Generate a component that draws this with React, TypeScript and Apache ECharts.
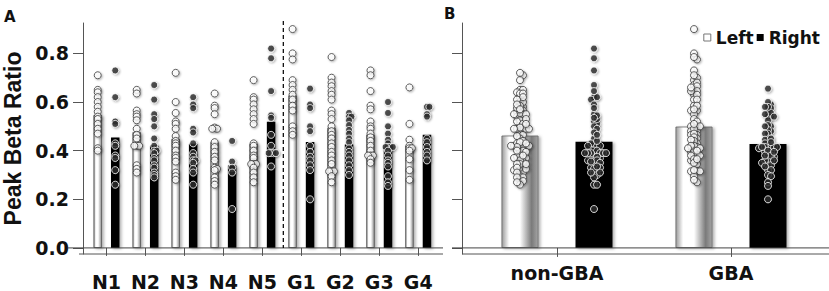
import React, { useEffect, useRef } from 'react';
import * as echarts from 'echarts';

// ---------- data ----------
const categoriesA = ['N1', 'N2', 'N3', 'N4', 'N5', 'G1', 'G2', 'G3', 'G4'];
const categoriesB = ['non-GBA', 'GBA'];
const yTickValues = [0, 0.2, 0.4, 0.6, 0.8];

const leftMeansA = [0.547, 0.476, 0.449, 0.435, 0.428, 0.627, 0.494, 0.466, 0.421];
const rightMeansA = [0.454, 0.421, 0.428, 0.339, 0.519, 0.436, 0.425, 0.417, 0.465];
const leftMeansB = [0.462, 0.499];
const rightMeansB = [0.437, 0.427];

const n1Left = [0.71, 0.65, 0.64, 0.62, 0.6, 0.58, 0.56, 0.54, 0.53, 0.51, 0.49, 0.47, 0.41, 0.4];
const n1Right = [0.73, 0.62, 0.52, 0.51, 0.43, 0.42, 0.38, 0.37, 0.32, 0.26];
const n2Left = [0.65, 0.635, 0.565, 0.55, 0.54, 0.525, 0.49, 0.465, 0.45, 0.42, 0.42, 0.42, 0.34, 0.325, 0.31];
const n2Right = [0.67, 0.61, 0.55, 0.53, 0.5, 0.45, 0.42, 0.4, 0.4, 0.39, 0.37, 0.36, 0.34, 0.33, 0.31, 0.3, 0.29];
const n3Left = [0.72, 0.6, 0.555, 0.52, 0.51, 0.49, 0.46, 0.44, 0.43, 0.42, 0.4, 0.38, 0.37, 0.355, 0.31, 0.295, 0.28];
const n3Right = [0.62, 0.59, 0.575, 0.49, 0.475, 0.43, 0.39, 0.375, 0.36, 0.36, 0.35, 0.325, 0.31, 0.26];
const n4Left = [0.635, 0.585, 0.575, 0.55, 0.495, 0.49, 0.49, 0.435, 0.415, 0.395, 0.375, 0.36, 0.33, 0.325, 0.32, 0.29, 0.275, 0.26];
const n4Right = [0.44, 0.355, 0.33, 0.31, 0.16];
const n5Left = [0.69, 0.62, 0.61, 0.59, 0.57, 0.55, 0.53, 0.51, 0.43, 0.42, 0.4, 0.38, 0.37, 0.345, 0.345, 0.345, 0.33, 0.31, 0.29, 0.27];
const n5Right = [0.82, 0.78, 0.645, 0.545, 0.535, 0.465, 0.42, 0.39, 0.39, 0.39, 0.39, 0.335];
const g1Left = [0.9, 0.8, 0.775, 0.69, 0.67, 0.65, 0.63, 0.61, 0.585, 0.565, 0.5, 0.48, 0.465];
const g1Right = [0.655, 0.59, 0.575, 0.5, 0.48, 0.42, 0.395, 0.375, 0.36, 0.34, 0.32, 0.2];
const g2Left = [0.785, 0.7, 0.68, 0.665, 0.645, 0.63, 0.61, 0.565, 0.55, 0.53, 0.5, 0.48, 0.465, 0.45, 0.43, 0.415, 0.395, 0.38, 0.36, 0.345, 0.315, 0.315, 0.315, 0.295, 0.27];
const g2Right = [0.555, 0.54, 0.54, 0.525, 0.505, 0.485, 0.47, 0.45, 0.435, 0.41, 0.395, 0.38, 0.36, 0.34, 0.32, 0.3];
const g3Left = [0.73, 0.71, 0.645, 0.585, 0.57, 0.52, 0.5, 0.49, 0.47, 0.455, 0.44, 0.42, 0.4, 0.38, 0.38, 0.38, 0.365, 0.35];
const g3Right = [0.6, 0.555, 0.5, 0.47, 0.445, 0.43, 0.415, 0.415, 0.415, 0.415, 0.4, 0.38, 0.36, 0.35, 0.335, 0.295, 0.27, 0.255];
const g4Left = [0.66, 0.51, 0.445, 0.42, 0.41, 0.41, 0.4, 0.365, 0.32, 0.28];
const g4Right = [0.58, 0.58, 0.55, 0.54, 0.45, 0.435, 0.415, 0.395, 0.38, 0.36];

const leftPointsA = [n1Left, n2Left, n3Left, n4Left, n5Left, g1Left, g2Left, g3Left, g4Left];
const rightPointsA = [n1Right, n2Right, n3Right, n4Right, n5Right, g1Right, g2Right, g3Right, g4Right];
const leftPointsB = [
  [...n1Left, ...n2Left, ...n3Left, ...n4Left, ...n5Left],
  [...g1Left, ...g2Left, ...g3Left, ...g4Left],
];
const rightPointsB = [
  [...n1Right, ...n2Right, ...n3Right, ...n4Right, ...n5Right],
  [...g1Right, ...g2Right, ...g3Right, ...g4Right],
];

// ---------- layout ----------
const Y_MIN = -0.025;
const Y_MAX = 0.925;
const GRID_TOP = 23;
const GRID_H = 231;
const PX_PER_UNIT = GRID_H / (Y_MAX - Y_MIN);
const FONT = "'DejaVu Sans', Verdana, sans-serif";
const TITLE_FONT = "'Liberation Sans', Arial, sans-serif";

// simple beeswarm: horizontal pixel offsets for each value
function swarm(values: number[], d: number, step: number): number[] {
  const placed: { x: number; y: number }[] = [];
  const out: number[] = new Array(values.length).fill(0);
  const order = values.map((v, i) => ({ v, i })).sort((a, b) => b.v - a.v);
  for (const { v, i } of order) {
    const y = v * PX_PER_UNIT;
    let chosen = 0;
    for (let k = 0; k < 60; k++) {
      const cands = k === 0 ? [0] : [k * step, -k * step];
      let ok: number | null = null;
      for (const x of cands) {
        if (placed.every((p) => (p.x - x) ** 2 + (p.y - y) ** 2 >= d * d)) {
          ok = x;
          break;
        }
      }
      if (ok !== null) {
        chosen = ok;
        break;
      }
    }
    placed.push({ x: chosen, y });
    out[i] = chosen;
  }
  return out;
}

function pointData(groups: number[][], side: number, d: number, step: number) {
  const data: any[] = [];
  groups.forEach((vals, ci) => {
    const offs = swarm(vals, d, step);
    vals.forEach((v, k) => {
      data.push({ value: [ci, v], symbolOffset: [side + offs[k], 0] });
    });
  });
  return data;
}

const leftPointStyle = {
  color: '#ffffff',
  borderColor: '#3a3a3a',
  borderWidth: 1,
  shadowColor: 'rgba(0,0,0,0.35)',
  shadowBlur: 2,
  shadowOffsetX: 1,
  shadowOffsetY: 1,
};
const rightPointStyle = {
  color: '#2a2a2a',
  borderColor: '#ffffff',
  borderWidth: 1,
  shadowColor: 'rgba(0,0,0,0.35)',
  shadowBlur: 2,
  shadowOffsetX: 1,
  shadowOffsetY: 1,
};
const barShadow = {
  shadowColor: 'rgba(0,0,0,0.3)',
  shadowBlur: 3,
  shadowOffsetX: 2,
  shadowOffsetY: 1,
};

export default function App() {
  const ref = useRef<HTMLDivElement>(null);
  useEffect(() => {
    const el = ref.current!;
    const chart = echarts.init(el, null, { renderer: 'svg' });

    const leftGradA = new echarts.graphic.LinearGradient(0, 0, 1, 0, [
      { offset: 0, color: '#8a8a8a' },
      { offset: 0.25, color: '#ffffff' },
      { offset: 0.55, color: '#ffffff' },
      { offset: 1, color: '#8a8a8a' },
    ]);
    const leftGradB = new echarts.graphic.LinearGradient(0, 0, 1, 0, [
      { offset: 0, color: '#9a9a9a' },
      { offset: 0.2, color: '#ffffff' },
      { offset: 0.5, color: '#ffffff' },
      { offset: 0.82, color: '#7a7a7a' },
      { offset: 1, color: '#a5a5a5' },
    ]);

    const yAxisCommon = {
      type: 'value',
      min: Y_MIN,
      max: Y_MAX,
      splitLine: { show: false },
      axisLine: { show: true, lineStyle: { color: '#555', width: 1 } },
      axisTick: { show: true, length: 10, customValues: yTickValues, lineStyle: { color: '#555', width: 1 } },
    };

    const option: any = {
      animation: false,
      backgroundColor: '#ffffff',
      textStyle: { fontFamily: FONT },
      grid: [
        { left: 83.3, top: GRID_TOP, width: 354.4, height: GRID_H },
        { left: 470, top: GRID_TOP, width: 348, height: GRID_H },
      ],
      legend: {
        orient: 'horizontal',
        right: 9,
        top: 29,
        padding: 0,
        itemWidth: 7,
        itemHeight: 7,
        itemGap: 3,
        selectedMode: false,
        textStyle: { fontFamily: FONT, fontSize: 17, fontWeight: 'bold', color: '#111' },
        data: [
          { name: 'Left', icon: 'rect', itemStyle: { color: '#ffffff', borderColor: '#777', borderWidth: 1 } },
          { name: 'Right', icon: 'rect', itemStyle: { color: '#000000' } },
        ],
      },
      xAxis: [
        {
          type: 'category',
          gridIndex: 0,
          data: categoriesA,
          axisLine: { show: false },
          axisTick: { show: true, alignWithLabel: true, length: 8, lineStyle: { color: '#555', width: 1 } },
          axisLabel: { fontFamily: FONT, fontSize: 19, fontWeight: 'bold', color: '#111', margin: 18 },
        },
        {
          type: 'category',
          gridIndex: 1,
          data: categoriesB,
          axisLine: { show: false },
          axisTick: { show: true, alignWithLabel: true, length: 9, lineStyle: { color: '#555', width: 1 } },
          axisLabel: { fontFamily: FONT, fontSize: 19, fontWeight: 'bold', color: '#111', margin: 9 },
        },
      ],
      yAxis: [
        {
          ...yAxisCommon,
          gridIndex: 0,
          offset: 4,
          axisLabel: {
            customValues: yTickValues,
            formatter: (v: number) => v.toFixed(1),
            fontFamily: FONT,
            fontSize: 19,
            fontWeight: 'bold',
            color: '#111',
            margin: 14,
          },
          name: 'Peak Beta Ratio',
          nameLocation: 'middle',
          nameRotate: 90,
          nameGap: 59,
          nameTextStyle: { fontFamily: TITLE_FONT, fontSize: 23, fontWeight: 'bold', color: '#111' },
        },
        {
          ...yAxisCommon,
          gridIndex: 1,
          offset: 8,
          axisLabel: { show: false },
        },
      ],
      series: [
        {
          name: 'Left',
          type: 'bar',
          xAxisIndex: 0,
          yAxisIndex: 0,
          data: leftMeansA,
          barWidth: 8.5,
          barGap: '106%',
          itemStyle: { color: leftGradA, borderColor: '#555', borderWidth: 0.8, ...barShadow },
        },
        {
          name: 'Right',
          type: 'bar',
          xAxisIndex: 0,
          yAxisIndex: 0,
          data: rightMeansA,
          barWidth: 8.5,
          barGap: '106%',
          itemStyle: { color: '#000000', ...barShadow },
        },
        {
          name: 'Left',
          type: 'bar',
          xAxisIndex: 1,
          yAxisIndex: 1,
          data: leftMeansB,
          barWidth: 37,
          barGap: '100%',
          itemStyle: { color: leftGradB, borderColor: '#666', borderWidth: 0.8, ...barShadow },
        },
        {
          name: 'Right',
          type: 'bar',
          xAxisIndex: 1,
          yAxisIndex: 1,
          data: rightMeansB,
          barWidth: 37,
          barGap: '100%',
          itemStyle: { color: '#000000', ...barShadow },
        },
        {
          name: 'Left points A',
          type: 'scatter',
          xAxisIndex: 0,
          yAxisIndex: 0,
          symbolSize: 7,
          data: pointData(leftPointsA, -8.75, 2.4, 2.4),
          itemStyle: leftPointStyle,
          z: 5,
        },
        {
          name: 'Right points A',
          type: 'scatter',
          xAxisIndex: 0,
          yAxisIndex: 0,
          symbolSize: 7,
          data: pointData(rightPointsA, 8.75, 2.4, 2.4),
          itemStyle: rightPointStyle,
          z: 5,
        },
        {
          name: 'Left points B',
          type: 'scatter',
          xAxisIndex: 1,
          yAxisIndex: 1,
          symbolSize: 7,
          data: pointData(leftPointsB, -37, 2.8, 3),
          itemStyle: leftPointStyle,
          z: 5,
        },
        {
          name: 'Right points B',
          type: 'scatter',
          xAxisIndex: 1,
          yAxisIndex: 1,
          symbolSize: 7,
          data: pointData(rightPointsB, 37, 2.8, 3),
          itemStyle: rightPointStyle,
          z: 5,
        },
      ],
    };

    chart.setOption(option);

    const y0 = chart.convertToPixel({ yAxisIndex: 0 }, 0) as number;
    const yBase = chart.convertToPixel({ yAxisIndex: 0 }, Y_MIN) as number;
    const xN5 = chart.convertToPixel({ xAxisIndex: 0 }, 'N5') as number;
    const xG1 = chart.convertToPixel({ xAxisIndex: 0 }, 'G1') as number;
    const xDash = (xN5 + xG1) / 2 + 1.5;
    const axisColor = '#555';

    chart.setOption({
      graphic: [
        { id: 'zeroA', type: 'line', z: 10, shape: { x1: 68, y1: y0, x2: 443, y2: y0 }, style: { stroke: '#444', lineWidth: 1 } },
        { id: 'zeroB', type: 'line', z: 10, shape: { x1: 452, y1: y0, x2: 829, y2: y0 }, style: { stroke: '#444', lineWidth: 1 } },
        { id: 'xlineA', type: 'line', z: 10, shape: { x1: 79, y1: yBase, x2: 443, y2: yBase }, style: { stroke: axisColor, lineWidth: 1 } },
        { id: 'xlineB', type: 'line', z: 10, shape: { x1: 462, y1: yBase, x2: 829, y2: yBase }, style: { stroke: axisColor, lineWidth: 1 } },
        { id: 'dash', type: 'line', z: 10, shape: { x1: xDash, y1: 21, x2: xDash, y2: y0 }, style: { stroke: '#111', lineWidth: 1.3, lineDash: [4, 3] } },
        { id: 'labA', type: 'text', left: 4, top: 9, style: { text: 'A', fontSize: 15, fontWeight: 'bold', fontFamily: FONT, fill: '#111' } },
        { id: 'labB', type: 'text', left: 444, top: 6, style: { text: 'B', fontSize: 15, fontWeight: 'bold', fontFamily: FONT, fill: '#111' } },
      ],
    });

    return () => chart.dispose();
  }, []);

  return <div ref={ref} style={{ position: 'fixed', left: 0, top: 0, width: 829, height: 291 }} />;
}
